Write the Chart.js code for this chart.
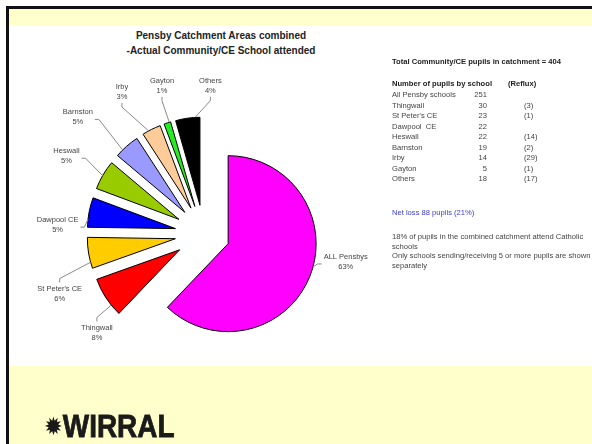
<!DOCTYPE html>
<html>
<head>
<meta charset="utf-8">
<script src="https://cdn.jsdelivr.net/npm/chart.js@4.4.0/dist/chart.umd.min.js"></script>
<style>
  body { margin: 0; width: 592px; height: 444px; overflow: hidden; background: #fff; position: relative;
         font-family: "Liberation Sans", Arial, sans-serif; }
  .frameTop { position: absolute; left: 6px; top: 6px; width: 586px; height: 3px; background: #111; }
  .frameLeft { position: absolute; left: 6px; top: 6px; width: 3px; height: 438px; background: #111; }
  .yellow { position: absolute; left: 9px; top: 9px; width: 583px; height: 435px; background: #ffffcc; }
  .panel { position: absolute; left: 9px; top: 25px; width: 583px; height: 341px; background: #fff; }
  .title { position: absolute; left: 101px; width: 240px; text-align: center; font-weight: bold;
           font-size: 10px; color: #222; line-height: 15px; top: 28px; }
  #pie { position: absolute; left: 4px; top: 34px; }
  .txt { position: absolute; font-size: 7.6px; color: #444; white-space: nowrap; }
  .b { font-weight: bold; color: #222; }
  .logo { position: absolute; left: 44px; top: 409px; font-weight: bold; font-size: 31px; color: #1a1a1a;
          -webkit-text-stroke: 0.8px #1a1a1a; transform: scaleX(0.9); transform-origin: left top; white-space: nowrap; }
  .logo span { font-family: "DejaVu Sans"; font-size: 25px; position: relative; top: -2px; -webkit-text-stroke: 0; }
</style>
</head>
<body>
<div class="yellow"></div>
<div class="panel"></div>
<div class="frameTop"></div>
<div class="frameLeft"></div>

<div class="title">Pensby Catchment Areas combined<br>-Actual Community/CE School attended</div>

<canvas id="pie" width="400" height="400"></canvas>

<div id="side"></div>

<div class="logo"><span>✹</span>WIRRAL</div>

<script>
// pie data
const pieNames = ['ALL Pensbys', 'Thingwall', "St Peter's CE", 'Dawpool CE', 'Heswall', 'Barnston', 'Irby', 'Gayton', 'Others'];
const piePupils = [251, 30, 23, 22, 22, 19, 14, 5, 18];
const piePercent = ['63%', '8%', '6%', '5%', '5%', '5%', '3%', '1%', '4%'];
const pieColors = ['#ff00ff', '#ff0000', '#ffcc00', '#0000ff', '#99cc00', '#9999ff', '#ffcc99', '#22ee22', '#000000'];

// table on the right
const tableSchools = ['All Pensby schools', 'Thingwall', "St Peter's CE", 'Dawpool  CE', 'Heswall', 'Barnston', 'Irby', 'Gayton', 'Others'];
const tablePupils = [251, 30, 23, 22, 22, 19, 14, 5, 18];
const tableReflux = ['', '(3)', '(1)', '', '(14)', '(2)', '(29)', '(1)', '(17)'];
const totalPupils = 404;
const netLoss = 88;
const netLossPct = '21%';
const catholicPct = '18%';

// layout of exploded slices and their labels
const explodePx = [26, 29, 29, 29, 29, 29, 29, 29, 29];
const labelShift = [-13, -12, -16, -9, -1, -7, -4, 3, 13];
const labelDist = [119, 117, 128, 118, 129, 143, 135, 125, 120];

// right hand text
let side = document.getElementById('side');
let html = '';
html += '<div class="txt b" style="left:392px;top:57px">Total Community/CE pupils in catchment = ' + totalPupils + '</div>';
html += '<div class="txt b" style="left:392px;top:79px">Number of pupils by school</div>';
html += '<div class="txt b" style="left:508px;top:79px">(Reflux)</div>';
tableSchools.forEach((s, i) => {
    let y = 90 + i * 10.5;
    html += '<div class="txt" style="left:392px;top:' + y + 'px">' + s.replace('  ', '&nbsp; ') + '</div>';
    html += '<div class="txt" style="left:447px;width:40px;text-align:right;top:' + y + 'px">' + tablePupils[i] + '</div>';
    html += '<div class="txt" style="left:524px;top:' + y + 'px">' + tableReflux[i] + '</div>';
});
html += '<div class="txt" style="left:392px;top:208px;color:#3c3cd0">Net loss ' + netLoss + ' pupils (' + netLossPct + ')</div>';
html += '<div class="txt" style="left:392px;top:232px;line-height:10px">' + catholicPct + ' of pupils in the combined catchment attend Catholic<br>schools</div>';
html += '<div class="txt" style="left:392px;top:251px;line-height:10px">Only schools sending/receiving 5 or more pupils are shown<br>separately</div>';
side.innerHTML = html;

const explodePlugin = {
    id: 'explode',
    beforeDatasetsDraw(chart) {
        const meta = chart.getDatasetMeta(0);
        const a = chart.chartArea;
        const cx = (a.left + a.right) / 2, cy = (a.top + a.bottom) / 2;
        meta.data.forEach((arc, i) => {
            const mid = (arc.startAngle + arc.endAngle) / 2;
            arc.x = cx + Math.cos(mid) * explodePx[i];
            arc.y = cy + Math.sin(mid) * explodePx[i];
        });
    },
    afterDatasetsDraw(chart) {
        const meta = chart.getDatasetMeta(0);
        const ctx = chart.ctx;
        ctx.save();
        ctx.font = '7.5px "Liberation Sans", Arial, sans-serif';
        ctx.textAlign = 'center';
        ctx.textBaseline = 'middle';
        ctx.strokeStyle = '#8a8a8a';
        ctx.lineWidth = 1;
        meta.data.forEach((arc, i) => {
            const mid = (arc.startAngle + arc.endAngle) / 2;
            const la = mid + labelShift[i] * Math.PI / 180;
            const lx = arc.x + Math.cos(la) * labelDist[i];
            const ly = arc.y + Math.sin(la) * labelDist[i];
            let ea = mid + (la - mid) * 0.5;
            const pad = (arc.endAngle - arc.startAngle) * 0.2;
            ea = Math.min(Math.max(ea, arc.startAngle + pad), arc.endAngle - pad);
            const ex = arc.x + Math.cos(ea) * arc.outerRadius;
            const ey = arc.y + Math.sin(ea) * arc.outerRadius;
            const w = Math.max(ctx.measureText(pieNames[i]).width, ctx.measureText(piePercent[i]).width);
            const h = 20;
            const dx = ex - lx, dy = ey - ly;
            let sx, sy, tx, ty;
            if (Math.abs(dx) - w / 2 > Math.abs(dy) - h / 2) {
                sx = lx + Math.sign(dx) * (w / 2 + 2); sy = ly + 2;
                tx = sx + Math.sign(dx) * 4; ty = sy;
            } else {
                sx = lx; sy = ly + Math.sign(dy) * (h / 2 + 1);
                tx = sx; ty = sy + Math.sign(dy) * 4;
            }
            ctx.beginPath();
            ctx.moveTo(sx, sy);
            ctx.lineTo(tx, ty);
            ctx.lineTo(ex, ey);
            ctx.stroke();
            ctx.fillStyle = '#444';
            ctx.fillText(pieNames[i], lx, ly - 5);
            ctx.fillText(piePercent[i], lx, ly + 5);
        });
        ctx.restore();
    }
};

new Chart(document.getElementById('pie').getContext('2d'), {
    type: 'pie',
    data: {
        labels: pieNames,
        datasets: [{
            data: piePupils,
            backgroundColor: pieColors,
            borderColor: '#000',
            borderWidth: 1
        }]
    },
    options: {
        responsive: false,
        animation: false,
        radius: 88,
        layout: { padding: 0 },
        plugins: {
            legend: { display: false },
            tooltip: { enabled: false }
        }
    },
    plugins: [explodePlugin]
});
</script>
</body>
</html>
